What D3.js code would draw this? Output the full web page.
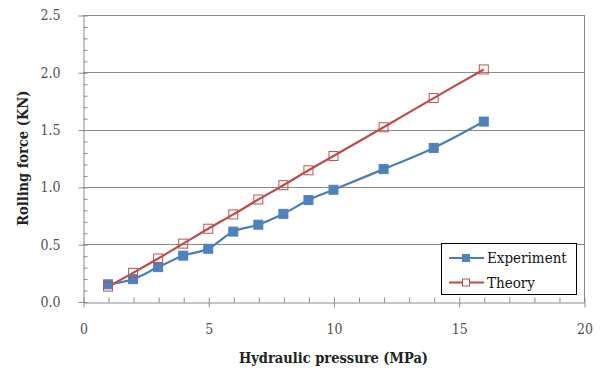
<!DOCTYPE html>
<html>
<head>
<meta charset="utf-8">
<script src="https://cdn.jsdelivr.net/npm/d3@7"></script>
<style>
  body { margin: 0; background: #fff; }
  svg { display: block; }
</style>
</head>
<body>
<div id="chart"></div>
<script>
// DATA

var pressure = [1, 2, 3, 4, 5, 6, 7, 8, 9, 10, 12, 14, 16];
var experiment = [0.15, 0.195, 0.30, 0.40, 0.46, 0.61, 0.67, 0.765, 0.885, 0.975, 1.155, 1.34, 1.57];
var theory = [0.13, 0.25, 0.375, 0.505, 0.635, 0.76, 0.89, 1.015, 1.145, 1.27, 1.52, 1.775, 2.025];
var seriesNames = ["Experiment", "Theory"];
var xTicks = [0, 5, 10, 15, 20];
var yTicks = [0, 0.5, 1.0, 1.5, 2.0, 2.5];

// D3 CODE

var width = 603;
var height = 371;
var serif = "'DejaVu Serif', 'Liberation Serif', serif";
var serifNarrow = "'DejaVu Serif Condensed', 'DejaVu Serif', serif";

var x = d3.scaleLinear()
    .domain([0, 20])
    .range([83, 584]);

var y = d3.scaleLinear()
    .domain([0, 2.5])
    .range([301.5, 15]);

var svg = d3.select("#chart")
    .append("svg")
    .attr("width", width)
    .attr("height", height);

// gridlines
svg.append("g")
    .selectAll("line")
    .data(yTicks.slice(1))
    .enter()
    .append("line")
    .attr("x1", x(0))
    .attr("x2", x(20))
    .attr("y1", function (d) { return Math.round(y(d)) + 0.5; })
    .attr("y2", function (d) { return Math.round(y(d)) + 0.5; })
    .style("stroke", "#8a8a8a")
    .style("stroke-width", 1);

// right border
svg.append("line")
    .attr("x1", Math.round(x(20)) + 0.5)
    .attr("x2", Math.round(x(20)) + 0.5)
    .attr("y1", Math.round(y(2.5)))
    .attr("y2", Math.round(y(0)))
    .style("stroke", "#8a8a8a");

// y axis: major ticks outside, minor ticks inside
svg.append("g")
    .attr("transform", "translate(" + (Math.round(x(0)) + 0.5) + ",0.5)")
    .call(d3.axisLeft(y).tickValues(yTicks).tickFormat(d3.format(".1f")).tickSizeInner(5).tickSizeOuter(0).tickPadding(18));

svg.append("g")
    .attr("transform", "translate(" + (Math.round(x(0)) + 0.5) + ",0.5)")
    .call(d3.axisRight(y).tickValues(d3.range(0, 2.51, 0.1)).tickFormat("").tickSizeInner(4).tickSizeOuter(0))
    .select(".domain").remove();

// x axis: major ticks cross, minor ticks inside
svg.append("g")
    .attr("transform", "translate(0.5," + (Math.round(y(0)) + 0.5) + ")")
    .call(d3.axisBottom(x).tickValues(xTicks).tickSizeInner(5).tickSizeOuter(0).tickPadding(17));

svg.append("g")
    .attr("transform", "translate(0.5," + (Math.round(y(0)) + 0.5) + ")")
    .call(d3.axisTop(x).tickValues(d3.range(0, 21, 1)).tickFormat("").tickSizeInner(5).tickSizeOuter(0))
    .select(".domain").remove();

svg.selectAll(".domain, .tick line")
    .style("stroke", "#8a8a8a");

svg.selectAll(".tick text")
    .attr("font-family", serifNarrow)
    .attr("font-size", 14)
    .style("fill", "#505050");

// axis titles
svg.append("text")
    .attr("x", x(10))
    .attr("y", 363)
    .attr("text-anchor", "middle")
    .attr("font-family", serifNarrow)
    .attr("font-weight", "bold")
    .attr("font-size", 14.5)
    .style("fill", "#222")
    .text("Hydraulic pressure (MPa)");

svg.append("text")
    .attr("transform", "translate(28," + y(1.25) + ") rotate(-90)")
    .attr("text-anchor", "middle")
    .attr("font-family", serifNarrow)
    .attr("font-weight", "bold")
    .attr("font-size", 14.5)
    .style("fill", "#222")
    .text("Rolling force (KN)");

// lines
var line = function (values) {
    return d3.line()
        .x(function (d, i) { return x(pressure[i]); })
        .y(function (d) { return y(d); })
        .curve(d3.curveCatmullRom.alpha(0))(values);
};

svg.append("path")
    .attr("d", line(experiment))
    .style("fill", "none")
    .style("stroke", "#4a7ebb")
    .style("stroke-width", 2.2);

svg.append("path")
    .attr("d", line(theory))
    .style("fill", "none")
    .style("stroke", "#be4b48")
    .style("stroke-width", 2.2);

// markers
function drawMarkers(values, cls, fill, stroke) {
    svg.selectAll("rect." + cls)
        .data(values)
        .enter()
        .append("rect")
        .attr("class", cls)
        .attr("x", function (d, i) { return x(pressure[i]) - 4.5; })
        .attr("y", function (d) { return y(d) - 4.5; })
        .attr("width", 9)
        .attr("height", 9)
        .style("fill", fill)
        .style("stroke", stroke)
        .style("stroke-width", 1);
}

drawMarkers(experiment, "exp", "#4f81bd", "#4f81bd");
drawMarkers(theory, "theo", "none", "#c0504d");

// legend
var legend = svg.append("g");

legend.append("rect")
    .attr("x", 441.5)
    .attr("y", 243.5)
    .attr("width", 135)
    .attr("height", 51)
    .style("fill", "#fff")
    .style("stroke", "#000")
    .style("stroke-width", 1);

var legendColors = [["#4a7ebb", "#4f81bd", "#4f81bd"], ["#be4b48", "none", "#c0504d"]];

seriesNames.forEach(function (name, i) {
    var ly = 258 + i * 24.5;
    legend.append("line")
        .attr("x1", 449)
        .attr("x2", 484)
        .attr("y1", ly)
        .attr("y2", ly)
        .style("stroke", legendColors[i][0])
        .style("stroke-width", 2);
    legend.append("rect")
        .attr("x", 466 - 3.5)
        .attr("y", ly - 3.5)
        .attr("width", 7)
        .attr("height", 7)
        .style("fill", legendColors[i][1] === "none" ? "#fff" : legendColors[i][1])
        .style("stroke", legendColors[i][2]);
    legend.append("text")
        .attr("x", 487)
        .attr("y", ly + 5)
        .attr("font-family", serifNarrow)
        .attr("font-size", 15)
        .style("fill", "#111")
        .text(name);
});
</script>
</body>
</html>
